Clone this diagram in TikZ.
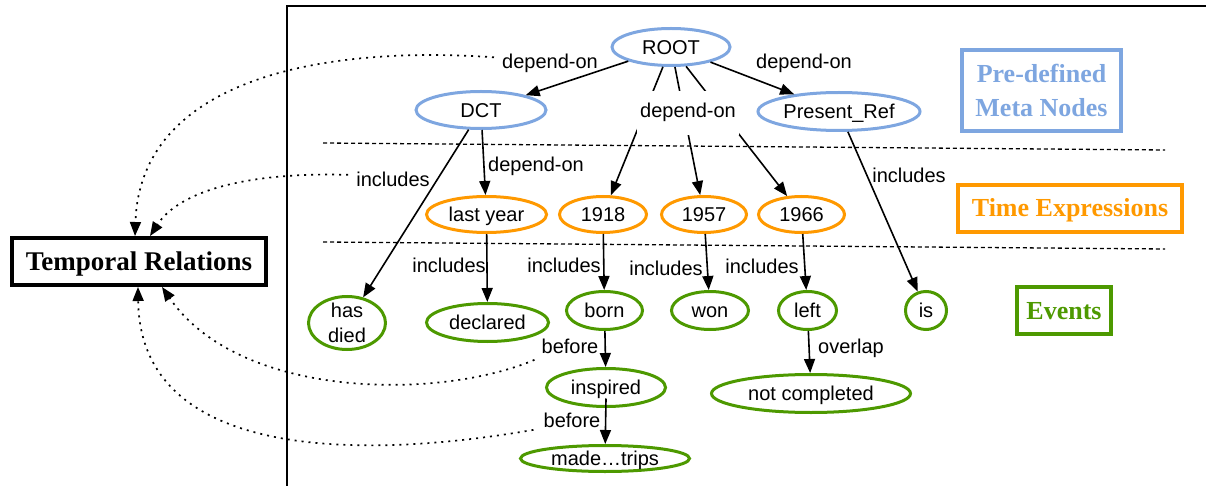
\documentclass[tikz,border=0pt]{standalone}
\usepackage{fontspec}
\newfontfamily\lsans{Liberation Sans}
\newfontfamily\lserif{Liberation Serif}
\usetikzlibrary{shapes.geometric,arrows.meta}
\definecolor{metablue}{HTML}{7EA6E0}
\definecolor{timeorange}{HTML}{FF9900}
\definecolor{eventgreen}{HTML}{4D9900}
\tikzset{
  ellbase/.style={ellipse, draw, line width=3pt, inner sep=0pt, text=black,
    font=\lsans\fontsize{20}{25}\selectfont},
  ell/.style={ellbase, text height=14.5pt, text depth=0pt},
  meta/.style={ell, draw=metablue},
  timex/.style={ell, draw=timeorange},
  event/.style={ell, draw=eventgreen},
  lab/.style={font=\lsans\fontsize{20}{24}\selectfont, inner sep=0pt, anchor=base},
  edge/.style={line width=1.6pt, -{Triangle[length=14pt,width=11pt]}},
  rel/.style={line width=1.7pt, dash pattern=on 2pt off 5pt, -{Triangle[length=14pt,width=11pt]}},
  legend/.style={draw, line width=3.5pt, inner sep=0pt, align=center,
    font=\lserif\bfseries\fontsize{26}{34}\selectfont},
  sep/.style={line width=1.3pt, dash pattern=on 4pt off 3pt}
}
\begin{document}
\begin{tikzpicture}[x=1pt,y=-1pt]
\useasboundingbox (0,0) rectangle (1206,486);
% frame
\draw[line width=2pt] (287,486) -- (287,6) -- (1206,6);
% separators
\draw[sep] (323,143) -- (1165,150);
\draw[sep] (323,242) -- (1165,249);
% meta nodes
\node[meta, minimum width=118, minimum height=37] (root) at (671,47) {ROOT};
\node[meta, minimum width=130, minimum height=37] (dct) at (481,110) {DCT};
\node[meta, minimum width=162, minimum height=38] (pref) at (839,111.5) {Present\_Ref};
% time expressions
\node[timex, minimum width=120, minimum height=36] (ly) at (486.5,214.5) {last year};
\node[timex, minimum width=87, minimum height=36] (y1918) at (603,214.5) {1918};
\node[timex, minimum width=85, minimum height=36] (y1957) at (704,214.5) {1957};
\node[timex, minimum width=86, minimum height=36] (y1966) at (801.5,214.5) {1966};
% events
\node[ellbase, draw=eventgreen, align=center, inner ysep=-3pt, minimum width=77, minimum height=53] (hasdied) at (347,323) {has\\died};
\node[event, minimum width=122, minimum height=38] (declared) at (487.5,322.5) {declared};
\node[event, minimum width=76, minimum height=38] (born) at (604.5,310.5) {born};
\node[event, minimum width=77, minimum height=38] (won) at (710,310.5) {won};
\node[event, minimum width=58, minimum height=38] (nleft) at (807.5,310.5) {left};
\node[event, minimum width=41, minimum height=38] (nis) at (926,310.5) {is};
\node[event, minimum width=119, minimum height=38] (inspired) at (606,387.5) {inspired};
\node[event, minimum width=199, minimum height=38] (notcomp) at (811,393.5) {not completed};
\node[event, minimum width=169, minimum height=26] (made) at (605,458.5) {made\ldots trips};
% legend boxes
\node[legend, draw=metablue, text=metablue, minimum width=159, minimum height=81] (lmeta) at (1041.5,90.5) {Pre-defined\\Meta Nodes};
\node[legend, draw=timeorange, text=timeorange, minimum width=224, minimum height=47, text height=17pt, text depth=0pt] (ltime) at (1070,208.5) {Time Expressions};
\node[legend, draw=eventgreen, text=eventgreen, minimum width=94, minimum height=47, text height=17pt, text depth=0pt] (levent) at (1064,310.5) {Events};
\node[legend, draw=black, line width=4pt, minimum width=254, minimum height=47, text height=18pt, text depth=0pt, font=\lserif\bfseries\fontsize{27}{34}\selectfont] (TR) at (139,261.5) {Temporal Relations};
% edges
\draw[edge] (root) -- (dct);
\draw[edge] (root) -- (pref);
\draw[edge] (root) -- (y1918);
\draw[edge] (root) -- (y1957);
\draw[edge] (root) -- (y1966);
\draw[edge] (dct) -- (ly);
\draw[edge] (dct) -- (hasdied);
\draw[edge] (pref) -- (nis);
\draw[edge] (ly) -- (declared);
\draw[edge] (y1918) -- (born);
\draw[edge] (y1957) -- (won);
\draw[edge] (y1966) -- (nleft);
\draw[edge] (born) -- (inspired);
\draw[edge] (nleft) -- (notcomp);
\draw[edge] ([yshift=-11pt]inspired.center) -- (made);
% labels
\node[lab] (l1) at (550,68.5) {depend-on};
\node[lab] (l2) at (804,69) {depend-on};
\node[lab, fill=white, inner xsep=3pt, inner ysep=13pt] (l3) at (688,118) {depend-on};
\node[lab] (l4) at (536,171.5) {depend-on};
\node[lab] (l5) at (393,187) {includes};
\node[lab] (l6) at (909,183) {includes};
\node[lab] (l7) at (449,272) {includes};
\node[lab] (l8) at (564,272) {includes};
\node[lab] (l9) at (666,275) {includes};
\node[lab] (l10) at (762,273) {includes};
\node[lab] (l11) at (570,353) {before};
\node[lab] (l12) at (851,353) {overlap};
\node[lab] (l13) at (572,427) {before};
% temporal relation links
\draw[rel] ([xshift=-8pt,yshift=6pt]l1.west) .. controls (320,45) and (140,80) .. ([xshift=-4pt]TR.north);
\draw[rel] ([xshift=-8pt,yshift=5pt]l5.west) .. controls (250,172) and (180,190) .. ([xshift=11pt]TR.north);
\draw[rel] ([xshift=-7pt,yshift=-14pt]l11.west) .. controls (440,400) and (240,400) .. ([xshift=23pt]TR.south);
\draw[rel] ([xshift=-10pt,yshift=-10pt]l13.west) .. controls (360,460) and (140,460) .. ([xshift=-1pt]TR.south);
\end{tikzpicture}
\end{document}
